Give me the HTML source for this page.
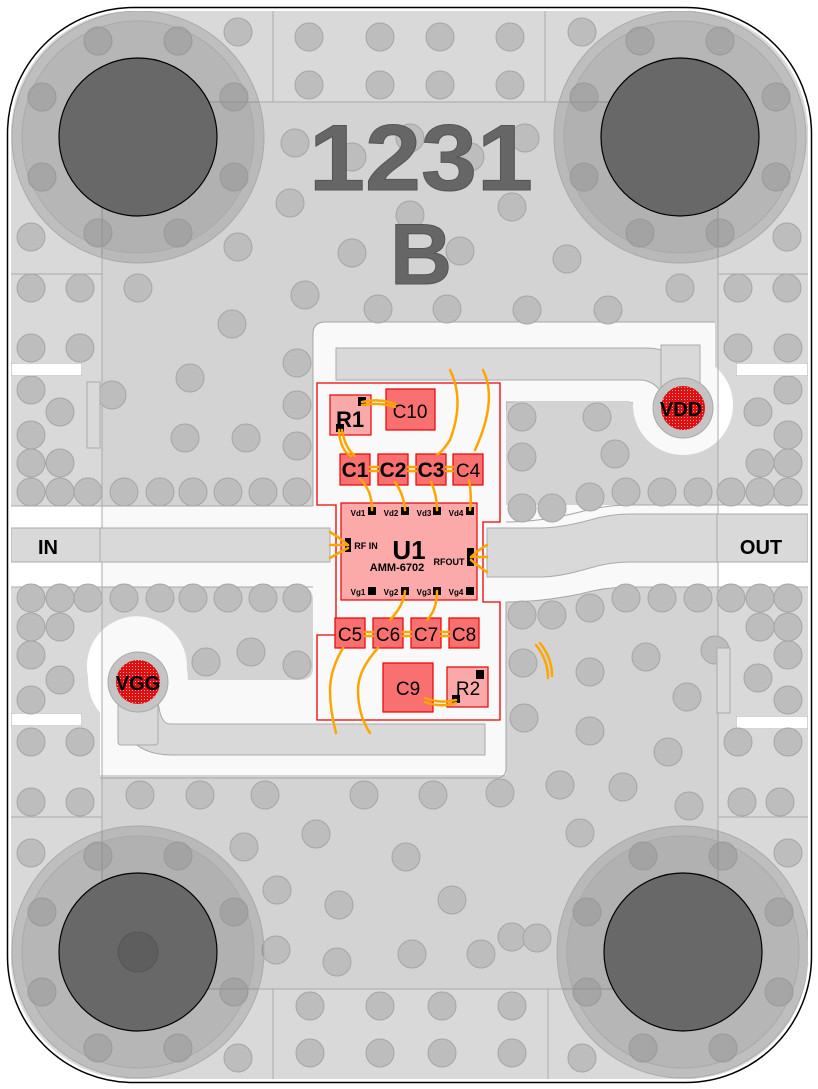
<!DOCTYPE html>
<html><head><meta charset="utf-8"><style>
html,body{margin:0;padding:0;background:#fff;}
svg{display:block;}
text{font-family:"Liberation Sans",sans-serif;}
</style></head><body>
<svg width="818" height="1089" viewBox="0 0 818 1089" xmlns="http://www.w3.org/2000/svg">
<defs>
<clipPath id="bd"><rect x="11" y="11" width="797" height="1068" rx="122" ry="122"/></clipPath>
<pattern id="mesh" width="3" height="3" patternUnits="userSpaceOnUse"><rect width="3" height="3" fill="#dd1111"/><rect width="1" height="1" fill="#f0a0a0"/></pattern>
</defs>
<rect x="7.5" y="7.5" width="804" height="1075" rx="126" ry="126" fill="#fff" stroke="#000" stroke-width="1.5"/>
<g clip-path="url(#bd)">
<rect x="11" y="11" width="797" height="1068" fill="#d9d9d9" stroke="#aaa"/>
<!-- white channels -->
<g fill="#fff" stroke="#aaa" stroke-width="1">
<path d="M325,322 H715 V402 H506 V505 H313 V334 Q313,322 325,322 Z"/>
<path d="M313,600 H506 V765 Q506,775 496,775 H100 V700 L313,680 Z" stroke="none"/>
<path d="M11,506 H313 V330 H506 V522 Q540,522 580,512 Q605,505 630,505 H808 V587 H630 Q605,587 580,594 Q540,602 506,602 V775 H100 V680 H11 Z" stroke="none"/>
<rect x="11" y="363" width="71" height="13"/>
<rect x="11" y="713" width="71" height="13"/>
<rect x="736" y="363" width="72" height="13"/>
<rect x="736" y="716" width="72" height="13"/>
</g>
<!-- gray blocks redraw -->
<g fill="#d9d9d9" stroke="#aaa">
<path d="M11,376 H82 V363 H11 V11 H808 V363 H736 V376 H808 V505 H630 Q605,505 580,512 Q540,522 520,522 Q506,522 506,510 V415 Q506,402 518,402 H630 A53,53 0 0 0 715,402 V322 H325 Q313,322 313,334 V506 H11 Z" stroke="none"/>
<path d="M11,587 H300 Q313,587 313,600 V668 Q313,680 300,680 H185 A50,50 0 1 0 100,700 V778 H496 Q506,778 506,768 V614 Q506,602 520,602 Q540,602 580,594 Q605,587 630,587 H808 V716 H736 V729 H808 V1079 H11 V726 H82 V713 H11 Z" stroke="none"/>
</g>
<!-- white loops -->
<circle cx="683" cy="405" r="50" fill="#fff"/>
<rect x="630" y="322" width="85" height="80" fill="#fff"/>
<circle cx="138" cy="680" r="50" fill="#fff"/>
<rect x="100" y="680" width="406" height="95" fill="#fff"/>
<rect x="313" y="330" width="193" height="445" fill="#fff"/>
<rect x="313" y="505" width="193" height="97" fill="#fff"/>
<path d="M11,506 H313 V587 H11 Z" fill="#fff"/>
<path d="M506,505 H808 V587 H630 Q605,587 580,594 Q540,602 506,602 Z" fill="#fff"/>
<path d="M506,522 Q540,522 580,512 Q605,505 630,505 H808" fill="none" stroke="#aaa"/>
<path d="M506,602 Q540,602 580,594 Q605,587 630,587 H808" fill="none" stroke="#aaa"/>
<path d="M313,506 V334 Q313,322 325,322 H715" fill="none" stroke="#aaa"/>
<path d="M11,506 H313 M11,587 H313" stroke="#aaa"/>
<path d="M100,778 H496 Q506,778 506,768 V602" fill="none" stroke="#aaa"/>
<!-- structure lines / translucent areas -->
<g fill="none" stroke="#aaa">
<rect x="102" y="102" width="616" height="887" fill="rgba(0,0,0,0.025)"/>
<path d="M273,11 V102 M545,11 V102 M11,274 H102 M718,274 H808 M11,817 H102 M718,817 H808 M273,989 V1079 M548,989 V1079"/>
</g>
<!-- dots -->
<g fill="#bdbdbd" stroke="#a6a6a6" stroke-width="1">
<circle cx="238" cy="32" r="14"/><circle cx="309" cy="37" r="14"/><circle cx="380" cy="37" r="14"/><circle cx="440" cy="37" r="14"/><circle cx="510" cy="37" r="14"/><circle cx="582" cy="32" r="14"/>
<circle cx="309" cy="85" r="14"/><circle cx="380" cy="85" r="14"/><circle cx="440" cy="85" r="14"/><circle cx="510" cy="85" r="14"/>
<circle cx="295" cy="143" r="14"/><circle cx="352" cy="157" r="14"/><circle cx="410" cy="138" r="14"/><circle cx="470" cy="157" r="14"/><circle cx="525" cy="138" r="14"/>
<circle cx="290" cy="203" r="14"/><circle cx="410" cy="215" r="14"/><circle cx="512" cy="207" r="14"/><circle cx="352" cy="253" r="14"/><circle cx="460" cy="251" r="14"/><circle cx="567" cy="259" r="14"/><circle cx="238" cy="247" r="14"/>
<circle cx="305" cy="295" r="14"/><circle cx="378" cy="309" r="14"/><circle cx="447" cy="309" r="14"/><circle cx="527" cy="310" r="14"/><circle cx="608" cy="310" r="14"/>
<circle cx="680" cy="288" r="14"/><circle cx="738" cy="288" r="14"/><circle cx="787" cy="288" r="14"/><circle cx="787" cy="237" r="14"/><circle cx="31" cy="237" r="14"/><circle cx="80" cy="288" r="14"/><circle cx="31" cy="288" r="14"/><circle cx="138" cy="288" r="14"/><circle cx="232" cy="324" r="14"/>
<circle cx="31" cy="348" r="14"/><circle cx="80" cy="348" r="14"/>
<circle cx="31" cy="390" r="14"/><circle cx="60" cy="412" r="14"/><circle cx="31" cy="435" r="14"/><circle cx="31" cy="463" r="14"/><circle cx="60" cy="463" r="14"/>
<circle cx="112" cy="395" r="14"/><circle cx="190" cy="378" r="14"/><circle cx="297" cy="363" r="14"/><circle cx="297" cy="405" r="14"/><circle cx="185" cy="438" r="14"/><circle cx="246" cy="438" r="14"/><circle cx="297" cy="446" r="14"/>
<circle cx="31" cy="492" r="14"/><circle cx="60" cy="492" r="14"/><circle cx="88" cy="492" r="14"/><circle cx="124" cy="492" r="14"/><circle cx="160" cy="492" r="14"/><circle cx="193" cy="492" r="14"/><circle cx="228" cy="492" r="14"/><circle cx="263" cy="492" r="14"/><circle cx="297" cy="492" r="14"/>
<circle cx="522" cy="417" r="14"/><circle cx="597" cy="417" r="14"/><circle cx="522" cy="457" r="14"/><circle cx="615" cy="454" r="14"/>
<circle cx="522" cy="508" r="14"/><circle cx="552" cy="508" r="14"/><circle cx="590" cy="497" r="14"/><circle cx="626" cy="492" r="14"/><circle cx="662" cy="492" r="14"/><circle cx="698" cy="492" r="14"/><circle cx="731" cy="492" r="14"/><circle cx="760" cy="492" r="14"/><circle cx="788" cy="492" r="14"/>
<circle cx="758" cy="412" r="14"/><circle cx="788" cy="390" r="14"/><circle cx="788" cy="435" r="14"/><circle cx="760" cy="463" r="14"/><circle cx="788" cy="463" r="14"/><circle cx="738" cy="348" r="14"/><circle cx="788" cy="348" r="14"/>
<circle cx="522" cy="615" r="14"/><circle cx="552" cy="615" r="14"/><circle cx="590" cy="608" r="14"/><circle cx="626" cy="598" r="14"/><circle cx="662" cy="598" r="14"/><circle cx="698" cy="598" r="14"/><circle cx="731" cy="598" r="14"/><circle cx="760" cy="598" r="14"/><circle cx="788" cy="598" r="14"/>
<circle cx="760" cy="627" r="14"/><circle cx="788" cy="627" r="14"/><circle cx="788" cy="655" r="14"/><circle cx="758" cy="678" r="14"/><circle cx="788" cy="700" r="14"/>
<circle cx="523" cy="663" r="14"/><circle cx="590" cy="672" r="14"/><circle cx="646" cy="657" r="14"/><circle cx="715" cy="650" r="14"/><circle cx="687" cy="697" r="14"/><circle cx="524" cy="718" r="14"/><circle cx="590" cy="731" r="14"/><circle cx="668" cy="752" r="14"/><circle cx="738" cy="742" r="14"/><circle cx="788" cy="742" r="14"/>
<circle cx="31" cy="598" r="14"/><circle cx="60" cy="598" r="14"/><circle cx="88" cy="598" r="14"/><circle cx="124" cy="598" r="14"/><circle cx="160" cy="598" r="14"/><circle cx="193" cy="598" r="14"/><circle cx="228" cy="598" r="14"/><circle cx="263" cy="598" r="14"/><circle cx="297" cy="598" r="14"/>
<circle cx="31" cy="627" r="14"/><circle cx="60" cy="627" r="14"/><circle cx="31" cy="655" r="14"/><circle cx="60" cy="680" r="14"/><circle cx="31" cy="700" r="14"/>
<circle cx="206" cy="662" r="14"/><circle cx="251" cy="652" r="14"/><circle cx="297" cy="665" r="14"/>
<circle cx="31" cy="742" r="14"/><circle cx="80" cy="742" r="14"/>
<circle cx="31" cy="802" r="14"/><circle cx="80" cy="802" r="14"/><circle cx="140" cy="795" r="14"/><circle cx="200" cy="795" r="14"/><circle cx="265" cy="795" r="14"/><circle cx="364" cy="795" r="14"/><circle cx="433" cy="795" r="14"/><circle cx="500" cy="793" r="14"/><circle cx="560" cy="785" r="14"/><circle cx="623" cy="787" r="14"/><circle cx="689" cy="806" r="14"/><circle cx="742" cy="802" r="14"/><circle cx="780" cy="802" r="14"/>
<circle cx="316" cy="834" r="14"/><circle cx="244" cy="847" r="14"/><circle cx="580" cy="833" r="14"/><circle cx="406" cy="857" r="14"/><circle cx="277" cy="890" r="14"/><circle cx="339" cy="905" r="14"/><circle cx="452" cy="900" r="14"/><circle cx="512" cy="937" r="14"/><circle cx="276" cy="950" r="14"/><circle cx="337" cy="962" r="14"/><circle cx="412" cy="954" r="14"/><circle cx="481" cy="954" r="14"/><circle cx="537" cy="938" r="14"/><circle cx="31" cy="853" r="14"/><circle cx="788" cy="853" r="14"/>
<circle cx="310" cy="1006" r="14"/><circle cx="380" cy="1006" r="14"/><circle cx="442" cy="1006" r="14"/><circle cx="512" cy="1006" r="14"/>
<circle cx="310" cy="1053" r="14"/><circle cx="380" cy="1053" r="14"/><circle cx="442" cy="1053" r="14"/><circle cx="512" cy="1053" r="14"/><circle cx="238" cy="1058" r="14"/><circle cx="582" cy="1058" r="14"/>
</g>
<!-- mounting rings -->
<g>
<g transform="translate(138,137)"><circle r="126" fill="rgba(0,0,0,0.12)" stroke="#aaa"/><circle r="116" fill="rgba(0,0,0,0.04)" stroke="#aaa"/>
<g fill="rgba(150,150,150,0.5)" stroke="#999"><circle cx="-40" cy="-96" r="14"/><circle cx="40" cy="-96" r="14"/><circle cx="-96" cy="-40" r="14"/><circle cx="96" cy="-40" r="14"/><circle cx="-96" cy="40" r="14"/><circle cx="96" cy="40" r="14"/><circle cx="-40" cy="96" r="14"/><circle cx="40" cy="96" r="14"/></g>
<circle r="79" fill="#686868" stroke="#000" stroke-width="1.2"/></g>
<g transform="translate(680,137)"><circle r="126" fill="rgba(0,0,0,0.12)" stroke="#aaa"/><circle r="116" fill="rgba(0,0,0,0.04)" stroke="#aaa"/>
<g fill="rgba(150,150,150,0.5)" stroke="#999"><circle cx="-40" cy="-96" r="14"/><circle cx="40" cy="-96" r="14"/><circle cx="-96" cy="-40" r="14"/><circle cx="96" cy="-40" r="14"/><circle cx="-96" cy="40" r="14"/><circle cx="96" cy="40" r="14"/><circle cx="-40" cy="96" r="14"/><circle cx="40" cy="96" r="14"/></g>
<circle r="79" fill="#686868" stroke="#000" stroke-width="1.2"/></g>
<g transform="translate(138,952)"><circle r="126" fill="rgba(0,0,0,0.12)" stroke="#aaa"/><circle r="116" fill="rgba(0,0,0,0.04)" stroke="#aaa"/>
<g fill="rgba(150,150,150,0.5)" stroke="#999"><circle cx="-40" cy="-96" r="14"/><circle cx="40" cy="-96" r="14"/><circle cx="-96" cy="-40" r="14"/><circle cx="96" cy="-40" r="14"/><circle cx="-96" cy="40" r="14"/><circle cx="96" cy="40" r="14"/><circle cx="-40" cy="96" r="14"/><circle cx="40" cy="96" r="14"/></g>
<circle r="79" fill="#686868" stroke="#000" stroke-width="1.2"/><circle r="20" fill="#5e5e5e" stroke="#555"/></g>
<g transform="translate(683,952)"><circle r="126" fill="rgba(0,0,0,0.12)" stroke="#aaa"/><circle r="116" fill="rgba(0,0,0,0.04)" stroke="#aaa"/>
<g fill="rgba(150,150,150,0.5)" stroke="#999"><circle cx="-40" cy="-96" r="14"/><circle cx="40" cy="-96" r="14"/><circle cx="-96" cy="-40" r="14"/><circle cx="96" cy="-40" r="14"/><circle cx="-96" cy="40" r="14"/><circle cx="96" cy="40" r="14"/><circle cx="-40" cy="96" r="14"/><circle cx="40" cy="96" r="14"/></g>
<circle r="79" fill="#686868" stroke="#000" stroke-width="1.2"/></g>
</g>
<!-- traces -->
<g fill="#d9d9d9" stroke="#aaa">
<rect x="11" y="528" width="319" height="34"/>
<line x1="100" y1="528" x2="100" y2="562"/>
<path d="M487,528 H540 Q560,528 590,520 Q610,514 630,514 H808 V562 H630 Q610,562 590,568 Q560,577 540,577 H487 Z"/>
<line x1="717" y1="514" x2="717" y2="562"/>
<path d="M336,348 H645 Q690,348 695,395 L670,410 Q660,380 640,380 H336 Z"/>
<path d="M661,345 H700 V395 H661 Z"/>
<path d="M170,724 H485 V755 H172 Q120,755 118,700 L158,700 Q160,724 170,724 Z"/>
<rect x="118" y="690" width="40" height="55" rx="3"/>
<path d="M87,382 V448 H100 V382 Z"/>
<path d="M717,648 V713 H730 V648 Z"/>
</g>
<circle cx="683" cy="408" r="30" fill="#c4c4c4" stroke="#aaa"/>
<circle cx="683" cy="408" r="22" fill="url(#mesh)"/>
<circle cx="138" cy="682" r="30" fill="#c4c4c4" stroke="#aaa"/>
<circle cx="138" cy="682" r="22" fill="url(#mesh)"/>
<text x="681" y="416" font-size="20" font-weight="bold" text-anchor="middle">VDD</text>
<text x="138" y="690" font-size="20" font-weight="bold" text-anchor="middle">VGG</text>
<text x="48" y="554" font-size="20" font-weight="bold" text-anchor="middle">IN</text>
<text x="761" y="554" font-size="20" font-weight="bold" text-anchor="middle">OUT</text>
<!-- marking -->
<text x="421" y="190" font-family="Liberation Mono, monospace" font-size="94" font-weight="bold" fill="#666" stroke="#555" stroke-width="1" text-anchor="middle" textLength="224" lengthAdjust="spacingAndGlyphs">1231</text>
<text x="421" y="284" font-size="86" font-weight="bold" fill="#666" stroke="#555" stroke-width="1" text-anchor="middle">B</text>
<!-- red outline -->
<path d="M317,383 H500 V522 H483 V602 H500 V720 H317 V635 H336 V505 H317 Z" fill="none" stroke="#e00" stroke-width="1.3"/>
<!-- components -->
<g stroke="#e00" stroke-width="1.2">
<rect x="330" y="395" width="41" height="40" fill="#f9a9a9"/>
<rect x="386" y="389" width="49" height="41" fill="#f87070"/>
<rect x="340" y="454" width="30" height="31" fill="#f87070"/>
<rect x="378" y="454" width="30" height="31" fill="#f87070"/>
<rect x="416" y="454" width="30" height="31" fill="#f87070"/>
<rect x="453" y="454" width="30" height="31" fill="#f87070"/>
<rect x="341" y="503" width="136" height="97" fill="#fba9a9"/>
<rect x="335" y="618" width="30" height="30" fill="#f87070"/>
<rect x="373" y="618" width="30" height="30" fill="#f87070"/>
<rect x="411" y="618" width="30" height="30" fill="#f87070"/>
<rect x="449" y="618" width="30" height="30" fill="#f87070"/>
<rect x="383" y="663" width="50" height="49" fill="#f87070"/>
<rect x="447" y="667" width="41" height="40" fill="#f9a9a9"/>
</g>
<g fill="#000">
<rect x="358" y="397" width="8" height="9"/><rect x="336" y="424" width="8" height="8"/>
<rect x="368" y="507" width="8" height="8"/><rect x="401" y="507" width="8" height="8"/><rect x="433" y="507" width="8" height="8"/><rect x="466" y="507" width="8" height="8"/>
<rect x="368" y="587" width="8" height="8"/><rect x="401" y="587" width="8" height="8"/><rect x="433" y="587" width="8" height="8"/><rect x="466" y="587" width="8" height="8"/>
<rect x="345" y="538" width="6" height="14"/><rect x="467" y="548" width="7" height="18"/>
<rect x="476" y="670" width="8" height="9"/><rect x="452" y="695" width="8" height="8"/>
</g>
<g font-weight="bold" text-anchor="middle">
<text x="350" y="427" font-size="22">R1</text>
<text x="410" y="418" font-size="19" font-weight="normal">C10</text>
<text x="355" y="477" font-size="21">C1</text>
<text x="393" y="477" font-size="21">C2</text>
<text x="431" y="477" font-size="21">C3</text>
<text x="468" y="477" font-size="19" font-weight="normal">C4</text>
<text x="350" y="641" font-size="19" font-weight="normal">C5</text>
<text x="388" y="641" font-size="19" font-weight="normal">C6</text>
<text x="426" y="641" font-size="19" font-weight="normal">C7</text>
<text x="464" y="641" font-size="19" font-weight="normal">C8</text>
<text x="408" y="695" font-size="19" font-weight="normal">C9</text>
<text x="468" y="695" font-size="19" font-weight="normal">R2</text>
<text x="409" y="559" font-size="26">U1</text>
<text x="397" y="571" font-size="11">AMM-6702</text>
<text x="358" y="516" font-size="8">Vd1</text><text x="391" y="516" font-size="8">Vd2</text><text x="424" y="516" font-size="8">Vd3</text><text x="456" y="516" font-size="8">Vd4</text>
<text x="358" y="595" font-size="8">Vg1</text><text x="391" y="595" font-size="8">Vg2</text><text x="424" y="595" font-size="8">Vg3</text><text x="456" y="595" font-size="8">Vg4</text>
<text x="366" y="549" font-size="9">RF IN</text>
<text x="449" y="565" font-size="9">RFOUT</text>
</g>
<!-- bond wires -->
<g fill="none" stroke="#ffa500" stroke-width="2.5" stroke-linecap="round">
<path d="M362,402 Q380,398 395,404"/><path d="M362,405 Q380,402 395,407"/>
<path d="M339,430 Q340,450 351,456"/><path d="M342,430 Q345,448 355,456"/>
<path d="M370,467 H378 M370,471 H378 M408,467 H416 M408,471 H416 M446,467 H453 M446,471 H453"/>
<path d="M360,479 Q372,490 372,510"/><path d="M395,482 Q404,495 405,510"/><path d="M431,482 Q437,495 437,510"/><path d="M469,480 Q472,495 470,510"/>
<path d="M450,370 Q465,400 450,440 Q440,455 437,454"/><path d="M483,370 Q498,400 475,450"/>
<path d="M330,532 Q340,538 348,545"/><path d="M330,545 H348"/><path d="M330,558 Q340,552 348,548"/>
<path d="M487,545 Q478,550 471,557"/><path d="M487,557 H471"/><path d="M487,572 Q478,566 471,560"/>
<path d="M405,591 Q404,605 390,620"/><path d="M437,591 Q437,610 427,620"/>
<path d="M365,632 H373 M365,636 H373 M403,632 H411 M403,636 H411 M441,632 H449 M441,636 H449"/>
<path d="M343,648 Q330,670 330,690 Q330,710 336,733"/><path d="M378,648 Q358,670 358,690 Q358,715 370,733"/>
<path d="M425,698 Q440,704 456,700"/><path d="M425,702 Q440,708 456,703"/>
<path d="M536,645 Q548,660 548,678"/><path d="M540,643 Q552,658 552,676"/>
</g>
</g>
</svg>
</body></html>
